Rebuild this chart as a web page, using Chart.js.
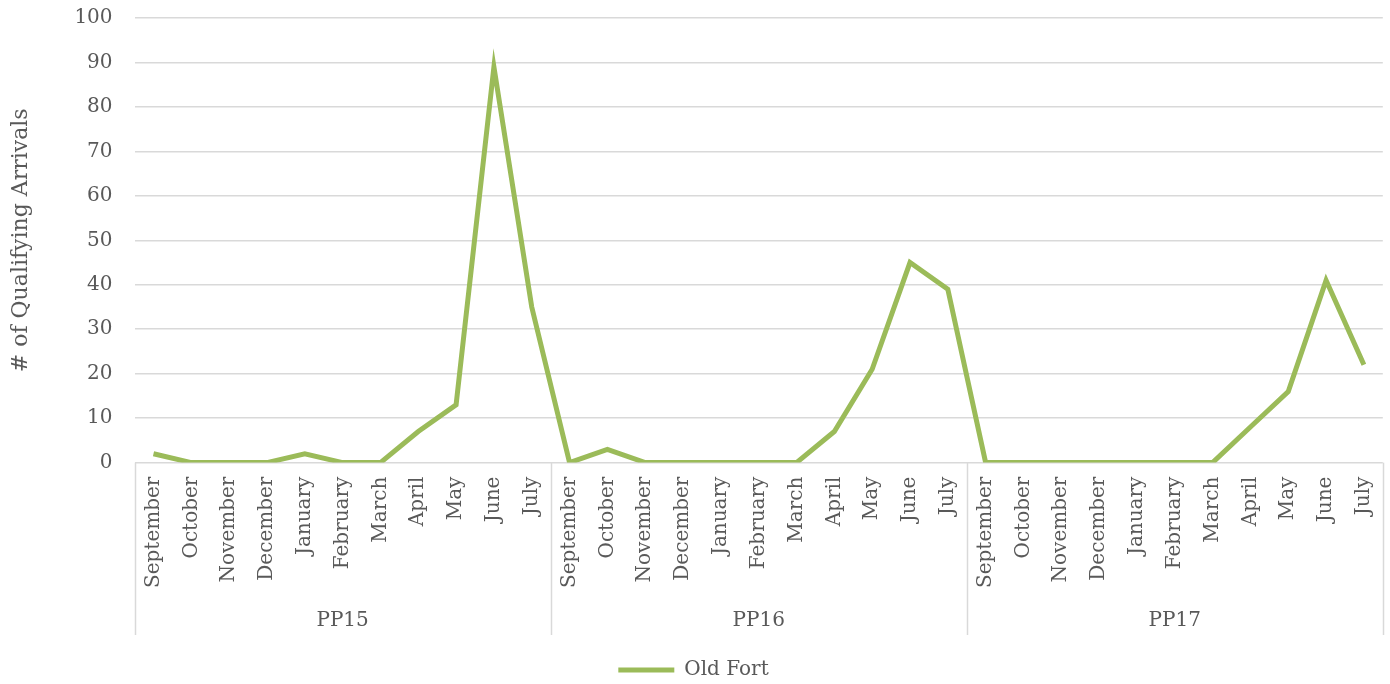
<!DOCTYPE html>
<html>
<head>
<meta charset="utf-8">
<script src="https://cdn.jsdelivr.net/npm/chart.js@4"></script>
<style>
  body { margin: 0; background: #fff; }
  #wrap { position: relative; width: 1390px; height: 684px; }
</style>
</head>
<body>
<div id="wrap"><canvas id="arrivalsChart"></canvas></div>
<script>
const months = ["September", "October", "November", "December", "January", "February",
  "March", "April", "May", "June", "July"];
const groups = ["PP15", "PP16", "PP17"];

const pp15 = [2, 0, 0, 0, 2, 0, 0, 7, 13, 89, 35];
const pp16 = [0, 3, 0, 0, 0, 0, 0, 7, 21, 45, 39];
const pp17 = [0, 0, 0, 0, 0, 0, 0, 8, 16, 41, 22];

const yTicks = [0, 10, 20, 30, 40, 50, 60, 70, 80, 90, 100];

const labels = [];
groups.forEach(() => months.forEach((m) => labels.push(m)));
const oldFort = [...pp15, ...pp16, ...pp17];

const textColor = "#595959";
const gridColor = "#d9d9d9";
const font = { family: "'DejaVu Serif', serif", size: 20 };

// vertical separators between PP groups, running through the label area
const groupLines = {
  id: "groupLines",
  afterDraw(chart) {
    const x = chart.scales.x;
    const x2 = chart.scales.x2;
    const ctx = chart.ctx;
    const step = x.width / labels.length;
    ctx.save();
    ctx.strokeStyle = gridColor;
    ctx.lineWidth = 1.5;
    for (let g = 0; g <= groups.length; g++) {
      const px = Math.round(x.left + g * months.length * step) + 0.5;
      ctx.beginPath();
      ctx.moveTo(px, x.top);
      ctx.lineTo(px, x2.bottom - 6);
      ctx.stroke();
    }
    ctx.restore();
  },
};

new Chart(document.getElementById("arrivalsChart"), {
  type: "line",
  data: {
    labels: labels,
    datasets: [
      {
        label: "Old Fort",
        data: oldFort,
        borderColor: "#9bbb59",
        backgroundColor: "#9bbb59",
        borderWidth: 5,
        pointRadius: 0,
        tension: 0,
        fill: false,
      },
    ],
  },
  options: {
    responsive: true,
    maintainAspectRatio: false,
    animation: false,
    layout: { padding: { left: 4, right: 7, top: 0, bottom: -6 } },
    plugins: {
      legend: {
        position: "bottom",
        labels: {
          color: textColor,
          font: font,
          usePointStyle: true,
          pointStyle: "line",
          pointStyleWidth: 56,
          padding: 19,
        },
      },
      tooltip: { enabled: false },
    },
    scales: {
      y: {
        min: 0,
        max: 100,
        afterBuildTicks(scale) {
          scale.ticks = yTicks.map((v) => ({ value: v }));
        },
        ticks: { color: textColor, font: font, padding: 6 },
        grid: {
          color: gridColor,
          lineWidth: 1.5,
          drawTicks: true,
          tickLength: 16,
          tickColor: "rgba(0,0,0,0)",
        },
        border: { display: false },
        title: {
          display: true,
          text: "# of Qualifying Arrivals",
          color: textColor,
          font: { family: font.family, size: 22 },
          padding: { bottom: 34 },
        },
      },
      x: {
        offset: true,
        ticks: {
          color: textColor,
          font: { family: font.family, size: 20, lineHeight: 1 },
          minRotation: 90,
          maxRotation: 90,
          autoSkip: false,
          padding: 6,
        },
        grid: { display: false },
        border: { display: false },
      },
      x2: {
        type: "category",
        labels: groups,
        position: "bottom",
        offset: true,
        ticks: { color: textColor, font: font, padding: 7 },
        grid: { display: false },
        border: { display: false },
        afterFit(scale) {
          scale.height = 47;
        },
      },
    },
  },
  plugins: [groupLines],
});
</script>
</body>
</html>
